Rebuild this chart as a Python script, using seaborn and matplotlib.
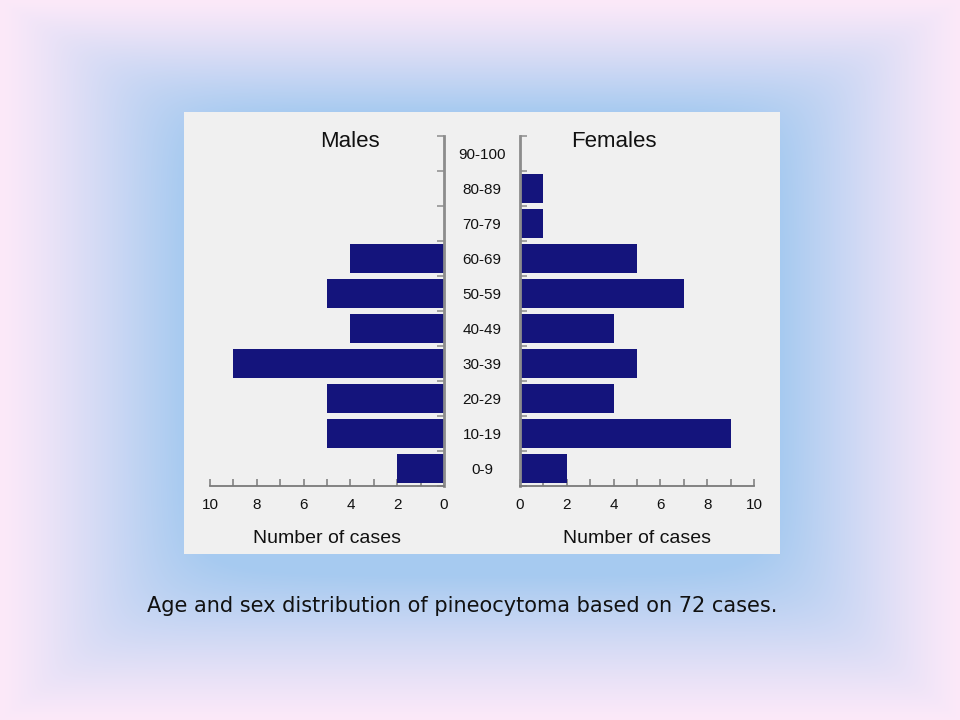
import numpy as np
import pandas as pd
import matplotlib
matplotlib.use("Agg")
import matplotlib.pyplot as plt
from matplotlib.patches import Rectangle
from matplotlib.ticker import MultipleLocator, FixedLocator
import seaborn as sns

# ---- data ----
age_groups = ["90-100", "80-89", "70-79", "60-69", "50-59",
              "40-49", "30-39", "20-29", "10-19", "0-9"]
males = [0, 0, 0, 4, 5, 4, 9, 5, 5, 2]
females = [0, 1, 1, 5, 7, 4, 5, 4, 9, 2]
x_ticks = [0, 2, 4, 6, 8, 10]
panel_titles = ["Males", "Females"]
x_label = "Number of cases"
caption = "Age and sex distribution of pineocytoma based on 72 cases."

df = pd.DataFrame({"age": age_groups, "Males": males, "Females": females})

sns.set_theme(style="white")
plt.rcParams["font.family"] = ["Liberation Sans", "DejaVu Sans"]

W, H = 960, 720
fig = plt.figure(figsize=(W / 100, H / 100), dpi=100)

# ---- background gradient (soft rectangular frame) ----
pink = np.array([252, 233, 249]) / 255.0
blue = np.array([166, 202, 240]) / 255.0
yy, xx = np.mgrid[0:H, 0:W].astype(float)
d = np.stack([xx / 184.0, (W - xx) / 180.0, yy / 112.0, (H - yy) / 145.0])
d = np.clip(d, 1e-3, None)
p = 5.0
t = (np.sum(d ** (-p), axis=0)) ** (-1.0 / p)
t = np.clip(t, 0, 1) ** 1.2
img = pink[None, None, :] * (1 - t[..., None]) + blue[None, None, :] * t[..., None]
bg = fig.add_axes([0, 0, 1, 1], zorder=-10)
bg.imshow(img, aspect="auto", extent=[0, W, H, 0], interpolation="bilinear")
bg.set_axis_off()

# ---- panel ----
fig.patches.append(Rectangle((184 / W, 1 - 554 / H), 596 / W, 442 / H,
                             transform=fig.transFigure, facecolor="#f0f0f0",
                             edgecolor="none", zorder=-5))

navy = "#14147c"
spine_gray = "#7a7a7a"
vert_gray = "#8c8c8c"

ax_bottom = 1 - 486 / H
ax_height = 350 / H
axL = fig.add_axes([210 / W, ax_bottom, 234 / W, ax_height])
axR = fig.add_axes([520 / W, ax_bottom, 234 / W, ax_height])

sns.barplot(data=df, x="Males", y="age", order=age_groups, color=navy,
            saturation=1, width=0.83, edgecolor=navy, linewidth=0, ax=axL)
sns.barplot(data=df, x="Females", y="age", order=age_groups, color=navy,
            saturation=1, width=0.83, edgecolor=navy, linewidth=0, ax=axR)

for ax, side in ((axL, "right"), (axR, "left")):
    ax.set_facecolor("none")
    ax.set_ylim(len(age_groups) - 0.5, -0.5)
    for s in ax.spines.values():
        s.set_visible(False)
    ax.spines["bottom"].set_visible(True)
    ax.spines["bottom"].set_color(spine_gray)
    ax.spines["bottom"].set_linewidth(1.3)
    ax.spines[side].set_visible(True)
    ax.spines[side].set_color(vert_gray)
    ax.spines[side].set_linewidth(2.0)
    # x ticks
    ax.xaxis.set_major_locator(FixedLocator(x_ticks))
    ax.xaxis.set_minor_locator(MultipleLocator(1))
    ax.tick_params(axis="x", which="both", direction="in", length=5, width=1.1,
                   color=spine_gray, bottom=True, top=False)
    ax.tick_params(axis="x", which="major", pad=8.5, labelsize=11, labelcolor="#111111")
    ax.set_xlabel(x_label, fontsize=14, color="#111111", labelpad=13)
    ax.set_ylabel("")
    # y ticks: labels at centres, small ticks at category boundaries
    ax.yaxis.set_minor_locator(FixedLocator(np.arange(-0.5, len(age_groups), 1.0)))
    if side == "right":
        ax.yaxis.tick_right()
    else:
        ax.yaxis.tick_left()
    ax.tick_params(axis="y", which="major", length=0)
    ax.tick_params(axis="y", which="minor", direction="in", length=5, width=1.1,
                   color=vert_gray)

axL.set_xlim(10, 0)
axR.set_xlim(0, 10)
axL.set_xticklabels([str(v) for v in x_ticks])
axR.set_xticklabels([str(v) for v in x_ticks])

axL.tick_params(axis="y", which="major", labelright=False, labelleft=False)
axR.tick_params(axis="y", which="major", labelleft=True, pad=27.4, labelsize=11,
                labelcolor="#111111")
for lab in axR.get_yticklabels():
    lab.set_horizontalalignment("center")

axL.text(0.598, 0.985, panel_titles[0], transform=axL.transAxes, ha="center",
         va="center", fontsize=16, color="#111111")
axR.text(0.40, 0.985, panel_titles[1], transform=axR.transAxes, ha="center",
         va="center", fontsize=16, color="#111111")

fig.text(462 / W, 1 - 606 / H, caption, ha="center", va="center",
         fontsize=15, color="#111111", family=["DejaVu Sans"])

fig.savefig("out.png", dpi=100)
